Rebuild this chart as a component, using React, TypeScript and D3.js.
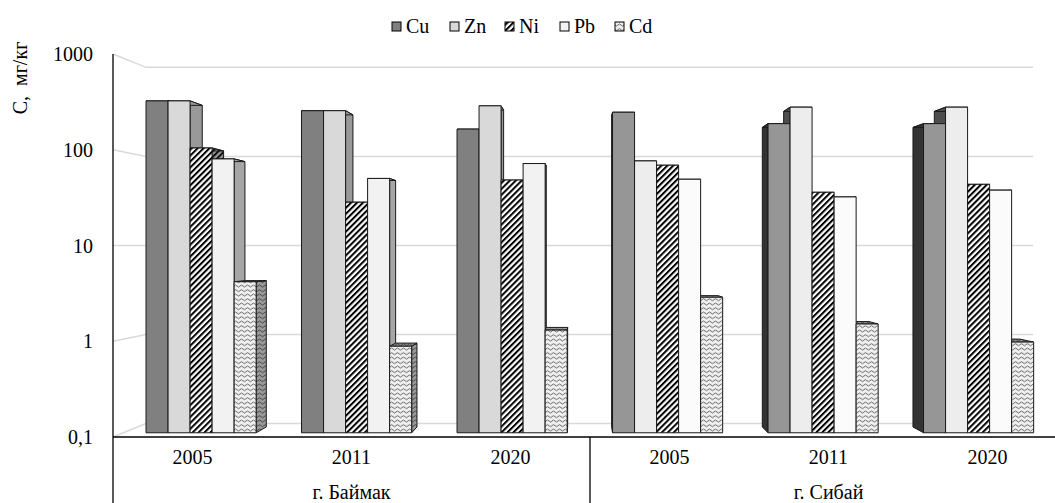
import React from 'react';
import * as d3 from 'd3';

// chart data
const years = ['2005', '2011', '2020', '2005', '2011', '2020'];
const cities = ['г. Баймак', 'г. Сибай'];
const series = ['Cu', 'Zn', 'Ni', 'Pb', 'Cd'];
const cu = [350, 275, 175, 265, 200, 200];
const zn = [350, 275, 310, 80, 300, 300];
const ni = [110, 29, 50, 72, 37, 45];
const pb = [84, 52, 75, 51, 33, 39];
const cd = [4.1, 0.84, 1.25, 2.8, 1.45, 0.93];
const yTicks = [0.1, 1, 10, 100, 1000];
const yTickLabels = ['0,1', '1', '10', '100', '1000'];

const W = 1055;
const H = 503;
const FONT = "'Liberation Serif', 'Times New Roman', serif";

// simple perspective: vanishing point and depth factors
const VX = 583;
const VY = 245;
const KB = 0.978; // bar front plane
const KD = KB * 0.969; // bar back plane
const KW = 0.93; // back wall

const proj = (x: number, y: number, k: number): [number, number] => [
  VX + (x - VX) * k,
  VY + (y - VY) * k,
];
const pts = (arr: [number, number][]) => arr.map((p) => p.join(',')).join(' ');

const frontFill = (s: string, right: boolean) => {
  switch (s) {
    case 'Cu': return right ? '#969696' : '#808080';
    case 'Zn': return right ? '#ededed' : '#d9d9d9';
    case 'Ni': return 'url(#ni)';
    case 'Pb': return right ? '#fbfbfb' : '#f2f2f2';
    default: return 'url(#cd)';
  }
};

const sideFill = (s: string, right: boolean) => {
  switch (s) {
    case 'Cu': return right ? '#333333' : '#6a6a6a';
    case 'Zn': return right ? '#4d4d4d' : '#999999';
    case 'Ni': return 'url(#niSide)';
    case 'Pb': return right ? '#666666' : '#a6a6a6';
    default: return 'url(#cdSide)';
  }
};

export default function App() {
  const values: Record<string, number[]> = { Cu: cu, Zn: zn, Ni: ni, Pb: pb, Cd: cd };

  const x = d3.scaleBand<number>().domain(d3.range(years.length)).range([113, 1067]);
  const inner = d3
    .scaleBand<string>()
    .domain(series)
    .range([0, x.bandwidth()])
    .paddingOuter(1.03);
  const y = d3.scaleLog().domain([0.1, 1000]).range([437, 54]);
  const y0 = y(0.1);

  const xLeft = x.range()[0];
  const xRight = x.range()[1];

  const legendSq = [392, 450, 505, 560, 615];
  const legendTx = [406, 464, 519, 574, 629];

  return (
    <svg
      width={W}
      height={H}
      style={{ position: 'absolute', left: 0, top: 0, background: '#fff' }}
      fontFamily={FONT}
    >
      <defs>
        <pattern id="ni" width="4.2" height="4.2" patternUnits="userSpaceOnUse" patternTransform="rotate(45)">
          <rect width="4.2" height="4.2" fill="#fff" />
          <rect width="2" height="4.2" fill="#000" />
        </pattern>
        <pattern id="niSide" width="4.2" height="4.2" patternUnits="userSpaceOnUse" patternTransform="rotate(45)">
          <rect width="4.2" height="4.2" fill="#9a9a9a" />
          <rect width="2" height="4.2" fill="#111" />
        </pattern>
        <pattern id="cd" width="6" height="4.5" patternUnits="userSpaceOnUse">
          <rect width="6" height="4.5" fill="#f0f0f0" />
          <path d="M0 2.6 Q1.5 0.6 3 2.6 T6 2.6" fill="none" stroke="#4d4d4d" strokeWidth="0.9" />
        </pattern>
        <pattern id="cdSide" width="6" height="4.5" patternUnits="userSpaceOnUse">
          <rect width="6" height="4.5" fill="#9a9a9a" />
          <path d="M0 2.6 Q1.5 0.6 3 2.6 T6 2.6" fill="none" stroke="#333" strokeWidth="0.9" />
        </pattern>
      </defs>

      {/* gridlines: side wall + back wall */}
      {yTicks.map((t) => {
        const yf = y(t);
        const a = proj(xLeft, yf, KW);
        const b = proj(xRight, yf, KW);
        return (
          <polyline
            key={t}
            points={pts([[xLeft, yf], a, b])}
            fill="none"
            stroke="#d9d9d9"
            strokeWidth={1.5}
          />
        );
      })}

      {/* bars */}
      {years.map((_, g) => {
        const right = g >= 3;
        const bars = series.map((s) => {
          const x0 = (x(g) as number) + (inner(s) as number);
          const x1 = x0 + inner.bandwidth();
          const yt = y(values[s][g]);
          return { s, x0, x1, yt };
        });
        return (
          <g key={g}>
            {bars.map(({ s, x0, x1, yt }) => {
              const showRight = x1 < VX;
              const edge = showRight ? x1 : x0;
              const side = [
                proj(edge, yt, KB),
                proj(edge, yt, KD),
                proj(edge, y0, KD),
                proj(edge, y0, KB),
              ];
              const top = [
                proj(x0, yt, KB),
                proj(x1, yt, KB),
                proj(x1, yt, KD),
                proj(x0, yt, KD),
              ];
              return (
                <g key={s}>
                  <polygon points={pts(side)} fill={sideFill(s, right)} stroke="#1a1a1a" strokeWidth={1} strokeLinejoin="round" />
                  <polygon points={pts(top)} fill={sideFill(s, right)} stroke="#1a1a1a" strokeWidth={1} strokeLinejoin="round" />
                </g>
              );
            })}
            {bars.map(({ s, x0, x1, yt }) => {
              const front = [
                proj(x0, yt, KB),
                proj(x1, yt, KB),
                proj(x1, y0, KB),
                proj(x0, y0, KB),
              ];
              return (
                <polygon
                  key={s}
                  points={pts(front)}
                  fill={frontFill(s, right)}
                  stroke="#1a1a1a"
                  strokeWidth={1}
                />
              );
            })}
          </g>
        );
      })}

      {/* axis and category table */}
      <line x1={xLeft} y1={y(1000)} x2={xLeft} y2={H} stroke="#000" strokeWidth={1.3} />
      <line x1={xLeft} y1={y0} x2={W} y2={y0} stroke="#000" strokeWidth={1.3} />
      <line x1={x(3) as number} y1={y0} x2={x(3) as number} y2={H} stroke="#000" strokeWidth={1.3} />

      {yTicks.map((t, i) => (
        <text key={t} x={93} y={y(t)} dy="0.35em" textAnchor="end" fontSize={20} fill="#000">
          {yTickLabels[i]}
        </text>
      ))}

      <text
        transform="translate(27,78) rotate(-90)"
        textAnchor="middle"
        fontSize={20}
        fill="#000"
      >
        {'C,\u00A0\u00A0мг/кг'}
      </text>

      {years.map((yr, g) => (
        <text
          key={g}
          x={(x(g) as number) + x.bandwidth() / 2}
          y={464}
          textAnchor="middle"
          fontSize={20}
          fill="#000"
        >
          {yr}
        </text>
      ))}
      {cities.map((c, i) => (
        <text
          key={c}
          x={(x(i * 3) as number) + (x.bandwidth() * 3) / 2}
          y={499}
          textAnchor="middle"
          fontSize={20}
          fill="#000"
        >
          {c}
        </text>
      ))}

      {/* legend */}
      {series.map((s, i) => (
        <g key={s}>
          <rect
            x={legendSq[i]}
            y={22}
            width={9}
            height={9}
            fill={frontFill(s, false)}
            stroke="#000"
            strokeWidth={1}
          />
          <text x={legendTx[i]} y={33} fontSize={20} fill="#000">
            {s}
          </text>
        </g>
      ))}
    </svg>
  );
}
